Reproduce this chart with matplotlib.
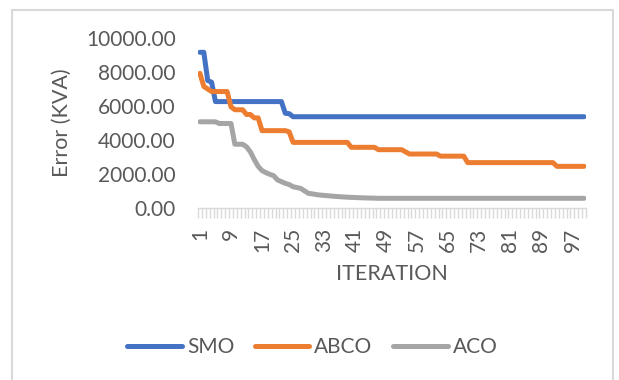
import matplotlib
matplotlib.use("Agg")
import matplotlib.pyplot as plt
from matplotlib.lines import Line2D
from matplotlib.patches import Rectangle
from matplotlib.ticker import FixedLocator, FuncFormatter

plt.rcParams['font.family'] = ['Lato', 'DejaVu Sans']

iterations = list(range(1, 101))

smo = [
    9160, 9160, 7500, 7400, 6260, 6260, 6260, 6260, 6260, 6260,
    6260, 6260, 6260, 6260, 6260, 6260, 6260, 6260, 6260, 6260,
    6260, 6260, 5570, 5550, 5370, 5370, 5370, 5370, 5370, 5370,
    5370, 5370, 5370, 5370, 5370, 5370, 5370, 5370, 5370, 5370,
    5370, 5370, 5370, 5370, 5370, 5370, 5370, 5370, 5370, 5370,
    5370, 5370, 5370, 5370, 5370, 5370, 5370, 5370, 5370, 5370,
    5370, 5370, 5370, 5370, 5370, 5370, 5370, 5370, 5370, 5370,
    5370, 5370, 5370, 5370, 5370, 5370, 5370, 5370, 5370, 5370,
    5370, 5370, 5370, 5370, 5370, 5370, 5370, 5370, 5370, 5370,
    5370, 5370, 5370, 5370, 5370, 5370, 5370, 5370, 5370, 5370,
]

abco = [
    7920, 7150, 7000, 6850, 6850, 6850, 6850, 6850, 5950, 5780,
    5780, 5780, 5500, 5500, 5300, 5300, 4550, 4550, 4550, 4550,
    4550, 4550, 4550, 4480, 3860, 3860, 3860, 3860, 3860, 3860,
    3860, 3860, 3860, 3860, 3860, 3860, 3860, 3860, 3860, 3570,
    3570, 3570, 3570, 3570, 3570, 3570, 3430, 3430, 3430, 3430,
    3430, 3430, 3430, 3300, 3175, 3175, 3175, 3175, 3175, 3175,
    3175, 3175, 3050, 3050, 3050, 3050, 3050, 3050, 3050, 2670,
    2670, 2670, 2670, 2670, 2670, 2670, 2670, 2670, 2670, 2670,
    2670, 2670, 2670, 2670, 2670, 2670, 2670, 2670, 2670, 2670,
    2670, 2670, 2450, 2450, 2450, 2450, 2450, 2450, 2450, 2450,
]

aco = [
    5070, 5070, 5070, 5070, 5070, 4970, 4970, 4970, 4970, 3750,
    3750, 3750, 3600, 3300, 2850, 2450, 2200, 2080, 1980, 1900,
    1650, 1550, 1450, 1380, 1250, 1200, 1150, 1000, 860, 830,
    790, 760, 740, 720, 700, 680, 665, 650, 635, 625,
    615, 605, 600, 590, 585, 580, 570, 570, 570, 570,
    570, 570, 570, 570, 570, 570, 570, 570, 570, 570,
    570, 570, 570, 570, 570, 570, 570, 570, 570, 570,
    570, 570, 570, 570, 570, 570, 570, 570, 570, 570,
    570, 570, 570, 570, 570, 570, 570, 570, 570, 570,
    570, 570, 570, 570, 570, 570, 570, 570, 570, 570,
]

series_names = ["SMO", "ABCO", "ACO"]
series_colors = ["#4472C4", "#ED7D31", "#A5A5A5"]
y_ticks = [0, 2000, 4000, 6000, 8000, 10000]
x_tick_labels = [1, 9, 17, 25, 33, 41, 49, 57, 65, 73, 81, 89, 97]

W, H = 619, 380
fig = plt.figure(figsize=(W / 100, H / 100), dpi=100)

# chart area border
fig.patches.append(Rectangle((12 / W, -0.05), (613 - 12) / W, (H - 10) / H + 0.05,
                             transform=fig.transFigure, fill=False,
                             edgecolor="#D9D9D9", linewidth=1.5))

ax = fig.add_axes([198 / W, (H - 208) / H, (586 - 198) / W, 170 / H])

for vals, name, col in zip([smo, abco, aco], series_names, series_colors):
    ax.plot(iterations, vals, color=col, linewidth=3.6, label=name,
            solid_capstyle="round", solid_joinstyle="round")

ax.set_xlim(0.5, 100.5)
ax.set_ylim(0, 10000)

for s in ["top", "right", "left"]:
    ax.spines[s].set_visible(False)
ax.spines["bottom"].set_color("#D9D9D9")
ax.spines["bottom"].set_linewidth(1.0)

ax.set_yticks(y_ticks)
ax.yaxis.set_major_formatter(FuncFormatter(lambda v, p: f"{v:.2f}"))
ax.tick_params(axis="y", length=0, pad=16, labelsize=15, labelcolor="#595959")

ax.xaxis.set_major_locator(FixedLocator(x_tick_labels))
ax.xaxis.set_minor_locator(FixedLocator([i + 0.5 for i in range(0, 101)]))
ax.set_xticklabels([str(v) for v in x_tick_labels], rotation=90)
ax.tick_params(axis="x", which="major", length=0, pad=14, labelsize=15,
               labelcolor="#595959")
ax.tick_params(axis="x", which="minor", length=7, width=1, color="#D9D9D9")

ax.set_ylabel("Error (KVA)", fontsize=15.5, color="#595959", labelpad=10)
ax.set_xlabel("ITERATION", fontsize=15.5, color="#595959", labelpad=9)

handles = [Line2D([0], [0], color=c, linewidth=3.6, solid_capstyle="round")
           for c in series_colors]
leg = fig.legend(handles, series_names, loc="center", ncol=3,
                 bbox_to_anchor=(0.505, (H - 347) / H), frameon=False,
                 fontsize=15, handlelength=2.6, handletextpad=0.25,
                 columnspacing=1.0, labelcolor="#595959")

fig.savefig("out.png", dpi=100, facecolor="white")
